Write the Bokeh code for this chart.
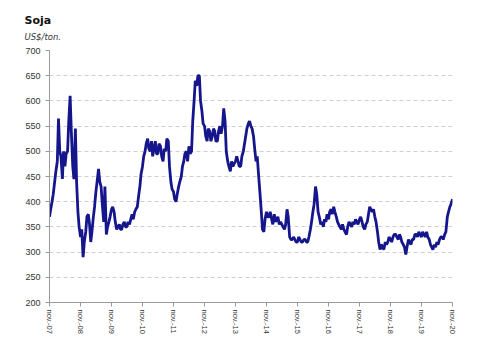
import numpy as np
import pandas as pd
from bokeh.plotting import figure
from bokeh.models import ColumnDataSource, FixedTicker, Range1d, Title
from bokeh.embed import file_html
from bokeh.resources import INLINE

# semi-monthly soybean prices, US$/ton, Nov-2007 .. Nov-2020
prices = [
    370, 385, 400, 415, 440, 460, 480, 565, 500, 490, 445, 500, 470, 495, 500, 560,
    610, 540, 470, 445, 545, 440, 380, 350, 330, 345, 290, 320, 340, 370, 375, 355,
    320, 340, 370, 390, 420, 440, 465, 440, 430, 395, 360, 430, 335, 350, 360, 370,
    385, 390, 380, 360, 345, 350, 355, 345, 345, 355, 360, 350, 350, 360, 355, 365,
    375, 365, 380, 385, 390, 410, 430, 455, 470, 490, 500, 515, 525, 505, 500, 520,
    490, 505, 520, 495, 495, 515, 510, 490, 480, 505, 500, 525, 520, 470, 440, 425,
    420, 405, 400, 415, 430, 440, 450, 470, 480, 495, 500, 480, 510, 495, 500, 560,
    600, 640, 630, 650, 650, 600, 580, 555, 550, 530, 520, 545, 540, 520, 530, 545,
    540, 520, 520, 540, 550, 535, 550, 585, 560, 500, 480, 470, 460, 480, 470, 475,
    480, 490, 480, 470, 470, 490, 500, 515, 530, 545, 555, 560, 550, 545, 530, 505,
    480, 490, 450, 420, 380, 345, 340, 365, 380, 370, 370, 380, 365, 355, 375, 360,
    365, 370, 355, 360, 355, 350, 345, 355, 385, 370, 330, 325, 325, 330, 325, 320,
    320, 330, 325, 320, 320, 325, 325, 320, 320, 330, 345, 360, 380, 395, 430, 415,
    380, 370, 355, 360, 350, 365, 360, 375, 365, 380, 385, 375, 390, 380, 370, 360,
    355, 350, 345, 355, 345, 340, 335, 350, 360, 355, 350, 360, 355, 365, 360, 355,
    365, 370, 360, 350, 345, 355, 360, 375, 390, 385, 380, 385, 370, 360, 340, 320,
    305, 315, 310, 305, 320, 315, 320, 330, 325, 320, 330, 335, 335, 330, 325, 335,
    330, 320, 315, 310, 295, 310, 325, 320, 315, 325, 325, 335, 335, 330, 340, 335,
    330, 340, 335, 330, 340, 330, 325, 315, 310, 305, 315, 310, 320, 315, 325, 330,
    330, 325, 335, 340, 370, 380, 390, 395, 405,
]
dates = pd.date_range("2007-11-01", periods=len(prices), freq="SMS")

tick_dates = pd.date_range("2007-11-01", periods=14, freq="12MS")
tick_labels = ["nov.-%02d" % (d.year % 100) for d in tick_dates]
y_ticks = [200, 250, 300, 350, 400, 450, 500, 550, 600, 650, 700]

x_ms = (dates.astype("int64") // 10**6).astype(float).tolist()
tick_ms = [float(v) for v in (tick_dates.astype("int64") // 10**6)]

source = ColumnDataSource(data=dict(x=x_ms, y=prices))

p = figure(width=477, height=350, output_backend="svg", toolbar_location=None,
           x_range=Range1d(tick_ms[0], tick_ms[-1]), y_range=Range1d(200, 700),
           min_border_left=49, min_border_right=25, min_border_bottom=48, min_border_top=0)
p.outline_line_color = None
p.background_fill_color = "white"
p.border_fill_color = "white"

p.line("x", "y", source=source, line_color="#16168C", line_width=2.8)

# top spacer (outermost)
p.title.text = " "
p.title.text_font_size = "13px"
p.title.standoff = 0

sub = Title(text="US$/ton.", text_font="DejaVu Sans", text_font_style="italic",
            text_font_size="8.5px", text_color="#333333", offset=-25, standoff=17)
main = Title(text="Soja", text_font="DejaVu Sans", text_font_style="bold",
             text_font_size="11px", text_color="#111111", offset=-25, standoff=-11)
p.add_layout(sub, "above")
p.add_layout(main, "above")

p.xaxis.ticker = FixedTicker(ticks=tick_ms)
p.xaxis.major_label_overrides = {int(t): lab for t, lab in zip(tick_ms, tick_labels)}
p.xaxis.major_label_orientation = "vertical"
p.xaxis.major_label_text_font = "Liberation Sans"
p.xaxis.major_label_text_font_size = "7.5px"
p.xaxis.major_label_text_color = "#333333"
p.xaxis.major_label_standoff = 3

p.yaxis.ticker = FixedTicker(ticks=y_ticks)
p.yaxis.major_label_text_font = "Liberation Sans"
p.yaxis.major_label_text_font_size = "9px"
p.yaxis.major_label_text_color = "#333333"
p.yaxis.major_label_standoff = 5

for ax in (p.xaxis, p.yaxis):
    ax.axis_line_color = "#9a9a9a"
    ax.major_tick_line_color = "#9a9a9a"
    ax.major_tick_out = 4
    ax.major_tick_in = 0
    ax.minor_tick_line_color = None

p.xgrid.grid_line_color = None
p.ygrid.grid_line_color = "#cfcfcf"
p.ygrid.grid_line_dash = "4 3"
p.ygrid.grid_line_width = 1

open("out.html", "w").write(file_html(p, INLINE))
